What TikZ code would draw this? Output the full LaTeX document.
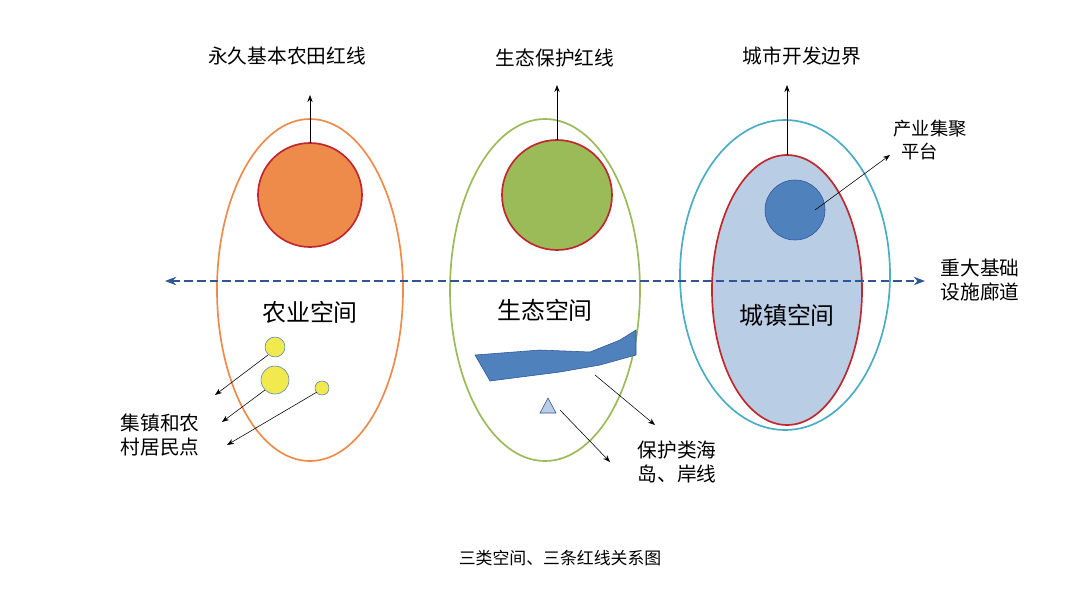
\documentclass[tikz,border=0pt]{standalone}
\usepackage{fontspec}
\setmainfont{Noto Sans CJK SC}
\usetikzlibrary{arrows.meta}
\definecolor{orangeF}{HTML}{EE8B4B}
\definecolor{greenF}{HTML}{9BBB59}
\definecolor{cyanL}{HTML}{4BACC6}
\definecolor{lightB}{HTML}{B9CDE5}
\definecolor{blueF}{HTML}{4F81BD}
\definecolor{darkB}{HTML}{2F5597}
\definecolor{redL}{HTML}{C0282D}
\definecolor{yellowF}{HTML}{F2E94E}
\tikzset{
  lbl/.style={font=\fontsize{14}{17}\selectfont, align=left},
  space/.style={font=\fontsize{17}{19}\selectfont},
  ptr/.style={-{Stealth[length=5pt]}, thin}
}
\begin{document}
\begin{tikzpicture}[x=0.025cm,y=-0.025cm]
            \useasboundingbox (0,0) rectangle (1080,612);
            
            % Outer spaces
            \draw[orangeF, line width=1.2pt] (310,290) ellipse (93 and 171);
            \draw[greenF, line width=1.2pt] (545,290) ellipse (95 and 171);
            \draw[cyanL, line width=1.2pt] (785,275) ellipse (105 and 155);
            \draw[redL, line width=1.2pt, fill=lightB] (787,290) ellipse (75 and 135);
            
            % Red line circles
            \draw[redL, line width=1.2pt, fill=orangeF] (310,195) circle (52);
            \draw[redL, line width=1.2pt, fill=greenF] (557,195) circle (55);
            \draw[darkB, fill=blueF] (795,210) circle (30);
            
            % Define points
            \coordinate (farmTop) at (310,143);
            \coordinate (ecoTop) at (557,140);
            \coordinate (cityTop) at (787,155);
            \coordinate (hub) at (815,210);
            
            % Labels on the top
            \node[lbl] (farmLine) at (287,56) {永久基本农田红线};
            \node[lbl] (ecoLine) at (555,58) {生态保护红线};
            \node[lbl] (cityLine) at (802,56) {城市开发边界};
            \node[lbl, font=\fontsize{13}{16}\selectfont] (hubLbl) at (930,140) {产业集聚\\\ \ 平台};
            
            \draw[ptr] (farmTop) -- (310,95);
            \draw[ptr] (ecoTop) -- (557,85);
            \draw[ptr] (cityTop) -- (787,85);
            \draw[ptr] (hub) -- (890,155);
            
            % Corridor
            \draw[darkB, line width=2pt, dash pattern=on 6pt off 3pt, {Stealth[length=8pt]}-{Stealth[length=8pt]}] (165,281) -- (925,281);
            \node[lbl] (corridor) at (980,280) {重大基础\\设施廊道};
            
            % Space names
            \node[space] (farm) at (310,312) {农业空间};
            \node[space] (eco) at (545,310) {生态空间};
            \node[space] (city) at (787,315) {城镇空间};
            
            % Settlements
            \draw[blueF, fill=yellowF] (275,347) circle (10);
            \draw[blueF, fill=yellowF] (275,380) circle (14);
            \draw[blueF, fill=yellowF] (322,388) circle (7);
            \draw[ptr] (268,355) -- (215,395);
            \draw[ptr] (265,390) -- (222,422);
            \draw[ptr] (317,392) -- (227,445);
            \node[lbl] (village) at (160,435) {集镇和农\\村居民点};
            
            % Islands and coast
            \draw[darkB, fill=blueF] (475,355) -- (540,350) -- (590,352) -- (620,340) -- (636,330) -- (636,355) -- (600,365) -- (560,372) -- (490,381) -- cycle;
            \draw[darkB, fill=lightB] (548,398) -- (540,413) -- (556,413) -- cycle;
            \draw[ptr] (595,375) -- (655,425);
            \draw[ptr] (560,410) -- (610,462);
            \node[lbl] (island) at (677,462) {保护类海\\岛、岸线};
            
            % Caption
            \node[font=\fontsize{12}{14}\selectfont] (title) at (560,558) {三类空间、三条红线关系图};
\end{tikzpicture}
\end{document}
